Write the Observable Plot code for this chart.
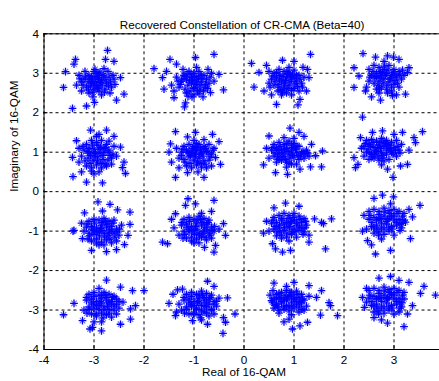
<!DOCTYPE html>
<html><head><meta charset="utf-8">
<script src="https://cdn.jsdelivr.net/npm/d3@7"></script>
<script src="https://cdn.jsdelivr.net/npm/@observablehq/plot@0.6"></script>
<style>html,body{margin:0;padding:0;overflow:hidden;background:#fff}</style>
</head><body><div id="chart"></div><script>
const titleText = "Recovered Constellation of CR-CMA (Beta=40)";
const xLabel = "Real of 16-QAM";
const yLabel = "Imaginary of 16-QAM";
const xTicks = [-4,-3,-2,-1,0,1,2,3,4];
const xTickLabels = [-4,-3,-2,-1,0,1,2,3];
const yTicks = [-4,-3,-2,-1,0,1,2,3,4];

const cA = [[-2.73,3.58],[-3.37,3.35],[-3.4,3.23],[-3.57,3.04],[-2.6,3.3],[-3.61,2.64],[-3.43,2.11],[-3.15,2.17],[-2.99,2.26],[-2.55,2.32],[-2.4,2.47],[-2.47,2.89],[-2.77,3.35],[-2.58,2.72],[-3.25,2.55],
[-3.1,2.95],[-3.0,3.05],[-2.9,2.98],[-2.8,2.9],[-3.2,2.85],[-3.05,2.75],[-2.95,2.7],[-2.85,2.8],[-2.75,2.75],[-3.15,2.65],[-3.0,2.6],[-2.9,2.55],[-2.78,2.6],[-2.7,2.9],[-3.25,2.78],[-3.3,2.95],[-2.92,2.88],[-3.08,2.85],[-2.65,2.65],[-2.85,2.45],[-3.1,2.5],[-2.98,3.1],[-2.72,3.05],[-3.35,2.7],[-2.6,2.85],[-3.02,2.4],[-2.8,3.12],[-3.18,3.05],[-2.9,2.65],[-2.68,2.5],
[-3.03,2.83],[-2.87,2.76],[-2.96,2.92],[-3.12,2.78],[-2.82,2.95],[-2.93,2.62],[-3.07,2.68],[-2.76,2.83],[-3.17,2.91],[-2.88,3.03],[-3.02,2.52],[-2.71,2.68],[-2.98,2.79],[-3.22,2.7],[-2.84,2.7],[-3.11,2.58],[-2.67,2.78],[-2.94,3.0],[-3.05,2.9],[-2.79,2.52],[-3.28,2.86],[-2.62,2.95],[-2.9,2.84],[-3.0,2.7]];
const cB = [[-1.8,3.12],[-1.48,3.35],[-1.35,3.23],[-0.97,3.4],[-0.6,3.48],[-1.63,2.89],[-1.6,2.6],[-1.4,2.38],[-1.19,2.15],[-0.41,2.58],[-0.5,2.97],[-0.67,2.51],[-1.55,3.05],[-1.45,2.7],[-1.17,2.25],
[-1.2,2.95],[-1.1,3.05],[-1.0,3.0],[-0.9,3.05],[-0.8,2.95],[-1.25,2.8],[-1.15,2.85],[-1.05,2.75],[-0.95,2.85],[-0.85,2.78],[-0.75,2.85],[-1.3,2.65],[-1.18,2.6],[-1.08,2.55],[-0.98,2.65],[-0.88,2.6],[-0.78,2.65],[-0.7,2.75],[-1.35,2.9],[-1.0,2.45],[-1.12,2.42],[-0.9,2.48],[-0.65,3.0],[-1.22,3.1],[-0.95,3.15],[-0.72,3.1],[-1.4,2.55],[-0.82,2.4],[-1.05,2.9],[-0.6,2.8],
[-1.03,2.82],[-0.91,2.9],[-1.12,2.7],[-0.96,2.72],[-0.84,2.86],[-1.18,2.92],[-1.06,2.98],[-0.77,2.72],[-1.27,2.72],[-0.93,2.55],[-1.15,2.5],[-0.86,2.95],[-1.01,2.62],[-0.68,2.9],[-1.22,2.85],[-0.99,2.92],[-1.09,2.82],[-0.81,2.55],[-0.73,2.62],[-1.32,2.8],[-0.88,2.7],[-1.04,2.4],[-1.14,2.98],[-0.94,2.78]];
const cC = [[0.15,3.25],[1.33,3.48],[0.3,3.02],[0.2,2.65],[0.4,2.55],[0.65,2.21],[1.08,2.2],[1.12,2.34],[1.25,2.55],[1.3,2.89],[1.27,3.1],[0.77,3.33],[0.45,3.2],[1.0,3.3],[0.55,2.45],
[0.6,3.0],[0.7,3.1],[0.8,3.05],[0.9,3.0],[1.0,3.08],[1.1,2.95],[0.55,2.85],[0.65,2.9],[0.75,2.8],[0.85,2.9],[0.95,2.85],[1.05,2.8],[1.15,2.75],[0.6,2.7],[0.7,2.65],[0.8,2.6],[0.9,2.7],[1.0,2.62],[1.1,2.55],[0.5,2.75],[0.85,2.5],[0.95,2.45],[0.75,2.45],[1.2,2.9],[0.9,3.15],[0.5,3.05],[1.05,2.95],[0.68,2.55],[1.18,3.15],[0.8,2.75],
[0.83,2.82],[0.93,2.93],[0.72,2.95],[0.62,2.8],[1.02,2.73],[0.88,2.62],[0.78,2.92],[0.97,2.98],[0.68,2.72],[1.12,2.85],[0.58,2.93],[0.86,3.05],[1.07,2.67],[0.74,2.58],[0.95,2.57],[0.81,2.68],[0.65,3.02],[1.17,2.65],[0.92,2.78],[0.71,2.85],[1.02,2.88],[0.52,2.65],[0.87,2.97],[0.77,2.52]];
const cD = [[2.38,3.5],[2.63,3.41],[2.87,3.44],[2.99,3.41],[2.2,3.14],[2.3,2.93],[2.2,2.64],[2.43,2.55],[2.73,2.32],[2.97,2.43],[3.23,2.47],[3.3,3.14],[3.27,3.02],[2.37,1.89],[3.1,3.35],[2.55,2.4],
[2.5,3.1],[2.6,3.2],[2.7,3.15],[2.8,3.1],[2.9,3.2],[3.0,3.1],[3.1,3.05],[2.55,2.95],[2.65,3.0],[2.75,2.95],[2.85,3.0],[2.95,2.95],[3.05,2.9],[3.15,2.85],[2.5,2.8],[2.6,2.75],[2.7,2.8],[2.8,2.85],[2.9,2.78],[3.0,2.72],[3.1,2.65],[2.65,2.6],[2.75,2.65],[2.85,2.6],[2.95,2.55],[2.45,2.65],[3.2,2.95],[2.8,3.3],[2.7,2.5],[3.05,2.45],
[2.83,2.95],[2.93,2.88],[2.72,3.05],[2.62,2.88],[3.02,2.82],[2.88,3.08],[2.78,2.75],[2.98,3.03],[2.68,2.7],[3.12,2.95],[2.58,3.05],[2.86,2.7],[3.07,2.75],[2.74,2.88],[2.95,2.65],[2.81,3.18],[2.65,2.92],[3.17,3.08],[2.92,2.85],[2.71,2.6],[3.02,2.98],[2.52,2.9],[2.87,2.5],[2.77,3.02]];
const cE = [[-3.07,1.56],[-2.75,1.56],[-3.35,1.29],[-3.43,0.87],[-3.42,0.38],[-3.15,0.24],[-2.83,0.22],[-2.37,0.46],[-2.4,0.75],[-2.47,1.13],[-2.43,0.61],[-3.3,1.1],[-2.9,1.45],[-2.6,1.4],[-3.25,0.5],
[-3.15,1.2],[-3.05,1.3],[-2.95,1.25],[-2.85,1.3],[-2.75,1.2],[-3.2,1.05],[-3.1,1.1],[-3.0,1.0],[-2.9,1.08],[-2.8,1.0],[-2.7,1.05],[-2.62,0.95],[-3.25,0.9],[-3.12,0.85],[-3.02,0.8],[-2.92,0.88],[-2.82,0.82],[-2.72,0.8],[-3.15,0.65],[-3.05,0.6],[-2.95,0.68],[-2.85,0.6],[-2.75,0.65],[-2.65,0.7],[-3.0,0.45],[-2.9,0.5],[-2.6,1.15],[-3.3,0.75],[-2.95,1.4],[-2.55,0.9],
[-2.97,0.97],[-2.87,1.12],[-3.07,0.92],[-2.82,0.92],[-3.12,1.02],[-2.93,0.78],[-2.77,1.12],[-3.03,1.18],[-2.68,0.92],[-3.18,0.78],[-2.98,0.88],[-2.86,0.72],[-3.08,0.72],[-2.72,1.0],[-2.92,1.18],[-3.22,1.15],[-2.78,0.7],[-3.0,1.08],[-2.65,0.85],[-2.88,0.98],[-3.1,0.98],[-2.8,1.1],[-3.05,0.52],[-2.7,1.28]];
const cF = [[-1.37,1.52],[-1.13,1.39],[-0.97,1.5],[-0.63,1.45],[-0.5,1.27],[-1.5,1.0],[-1.47,1.21],[-1.37,0.36],[-1.13,0.48],[-0.8,0.36],[-0.47,0.69],[-0.57,0.86],[-1.45,0.75],[-0.6,1.1],[-1.3,0.6],
[-1.2,1.15],[-1.1,1.2],[-1.0,1.15],[-0.9,1.2],[-0.8,1.15],[-0.7,1.2],[-1.25,1.0],[-1.15,1.05],[-1.05,0.98],[-0.95,1.05],[-0.85,0.98],[-0.75,1.02],[-0.65,0.95],[-1.3,0.85],[-1.2,0.82],[-1.1,0.88],[-1.0,0.8],[-0.9,0.85],[-0.8,0.78],[-0.7,0.8],[-1.15,0.65],[-1.05,0.6],[-0.95,0.68],[-0.85,0.62],[-0.75,0.6],[-1.35,1.1],[-0.65,0.65],[-1.0,1.3],[-0.8,1.32],[-0.92,0.5],
[-0.97,0.95],[-0.87,1.08],[-1.07,0.92],[-0.82,0.9],[-1.12,1.0],[-0.93,0.75],[-0.77,1.1],[-1.03,1.1],[-0.68,0.88],[-1.18,0.75],[-0.98,0.88],[-0.86,0.72],[-1.08,0.72],[-0.72,1.0],[-0.92,1.12],[-1.22,1.08],[-0.78,0.7],[-1.0,1.05],[-0.62,1.05],[-0.88,0.95],[-1.1,0.98],[-0.8,1.08],[-1.25,0.92],[-0.95,1.22]];
const cG = [[0.92,1.61],[0.5,1.41],[0.8,1.37],[1.1,1.5],[0.39,0.68],[0.63,0.48],[0.87,0.44],[1.12,0.57],[1.33,0.63],[1.55,0.63],[1.57,1.03],[1.43,0.91],[1.35,1.2],[0.45,1.1],[1.2,1.4],
[0.6,1.2],[0.7,1.25],[0.8,1.2],[0.9,1.28],[1.0,1.22],[1.1,1.15],[0.55,1.05],[0.65,1.1],[0.75,1.05],[0.85,1.1],[0.95,1.05],[1.05,1.0],[1.15,0.98],[1.25,1.05],[0.6,0.9],[0.7,0.95],[0.8,0.9],[0.9,0.95],[1.0,0.88],[1.1,0.82],[1.2,0.85],[0.65,0.75],[0.75,0.8],[0.85,0.75],[0.95,0.7],[1.05,0.7],[0.5,0.85],[1.3,0.9],[0.85,0.62],[1.0,1.35],
[0.88,1.02],[0.98,1.12],[0.78,0.98],[0.68,1.05],[1.08,0.92],[0.92,0.85],[0.72,1.15],[1.03,1.08],[0.62,0.98],[1.18,1.02],[0.83,0.82],[0.95,1.18],[1.13,0.9],[0.76,0.88],[0.86,1.22],[1.22,0.95],[0.7,0.82],[0.97,0.92],[0.58,1.12],[1.06,1.15],[0.81,1.08],[0.9,0.72],[1.27,0.98],[0.67,0.88]];
const cH = [[3.57,1.52],[3.4,1.37],[3.43,1.24],[2.57,1.5],[2.77,1.54],[3.17,1.5],[2.2,0.86],[2.23,0.61],[2.28,0.69],[2.87,0.57],[2.98,0.36],[3.3,1.05],[3.27,0.69],[3.13,0.65],[2.33,1.37],[2.35,1.1],[3.0,1.45],
[2.45,1.3],[2.55,1.32],[2.65,1.28],[2.75,1.35],[2.85,1.3],[2.95,1.25],[3.05,1.3],[2.4,1.15],[2.5,1.2],[2.6,1.12],[2.7,1.18],[2.8,1.15],[2.9,1.1],[3.0,1.12],[3.1,1.05],[2.45,1.0],[2.55,0.95],[2.65,1.02],[2.75,0.98],[2.85,0.95],[2.95,1.0],[3.05,0.9],[2.5,0.82],[2.6,0.85],[2.7,0.8],[2.8,0.78],[2.9,0.82],[2.4,0.9],[3.15,1.2],[2.75,0.68],
[2.73,1.1],[2.83,1.22],[2.63,1.05],[2.53,1.15],[2.93,1.05],[2.78,0.92],[2.58,1.25],[2.88,1.2],[2.48,1.08],[3.03,1.05],[2.68,0.9],[2.8,1.28],[2.98,0.95],[2.62,0.95],[2.72,1.25],[3.08,1.15],[2.56,0.88],[2.85,1.05],[2.43,1.22],[2.92,1.18],[2.68,1.12],[2.76,0.85],[3.12,0.98],[2.52,0.98]];
const cI = [[-2.92,-0.26],[-2.68,-0.32],[-2.53,-0.46],[-2.28,-0.52],[-3.19,-0.54],[-3.4,-0.98],[-3.23,-1.19],[-3.05,-1.49],[-2.55,-1.47],[-2.39,-1.34],[-2.32,-1.11],[-2.28,-0.83],[-2.83,-0.49],[-3.42,-1.0],[-2.75,-1.52],
[-3.1,-0.75],[-3.0,-0.7],[-2.9,-0.72],[-2.8,-0.68],[-2.7,-0.75],[-2.6,-0.72],[-3.15,-0.9],[-3.05,-0.88],[-2.95,-0.92],[-2.85,-0.85],[-2.75,-0.9],[-2.65,-0.88],[-2.55,-0.95],[-3.1,-1.05],[-3.0,-1.08],[-2.9,-1.02],[-2.8,-1.05],[-2.7,-1.1],[-2.6,-1.05],[-2.5,-1.1],[-3.05,-1.25],[-2.95,-1.2],[-2.85,-1.28],[-2.75,-1.22],[-2.65,-1.3],[-2.55,-1.25],[-3.2,-1.0],[-2.9,-1.35],[-2.45,-0.85],[-3.25,-0.8],
[-2.84,-0.98],[-2.74,-0.82],[-2.94,-1.02],[-3.04,-0.95],[-2.64,-1.0],[-2.79,-1.15],[-2.99,-0.8],[-2.69,-0.95],[-3.09,-1.12],[-2.54,-1.02],[-2.89,-1.12],[-2.77,-0.75],[-2.58,-1.15],[-2.95,-1.3],[-2.84,-0.78],[-2.49,-0.95],[-3.14,-0.82],[-2.72,-1.05],[-3.0,-0.98],[-2.62,-0.8],[-2.87,-0.93],[-2.68,-1.2],[-3.12,-1.2],[-2.8,-1.35]];
const cJ = [[-1.12,-0.18],[-0.6,-0.22],[-1.17,-0.35],[-0.97,-0.31],[-1.37,-0.56],[-1.63,-1.28],[-1.53,-1.32],[-1.4,-0.92],[-0.6,-1.53],[-0.57,-1.36],[-0.37,-1.11],[-0.41,-0.81],[-0.79,-1.41],[-0.65,-0.5],[-1.45,-0.7],
[-1.2,-0.7],[-1.1,-0.65],[-1.0,-0.7],[-0.9,-0.62],[-0.8,-0.68],[-0.7,-0.72],[-1.25,-0.85],[-1.15,-0.82],[-1.05,-0.88],[-0.95,-0.8],[-0.85,-0.85],[-0.75,-0.82],[-0.65,-0.9],[-1.2,-1.0],[-1.1,-1.02],[-1.0,-0.98],[-0.9,-1.05],[-0.8,-1.0],[-0.7,-1.05],[-0.6,-1.0],[-1.15,-1.18],[-1.05,-1.15],[-0.95,-1.2],[-0.85,-1.15],[-0.75,-1.22],[-0.65,-1.18],[-1.3,-1.1],[-0.5,-0.95],[-1.0,-1.3],[-0.85,-0.55],
[-0.94,-0.95],[-0.84,-0.78],[-1.04,-0.98],[-1.14,-0.9],[-0.74,-0.95],[-0.89,-1.1],[-1.09,-0.75],[-0.79,-0.9],[-1.19,-1.08],[-0.64,-0.98],[-0.99,-1.08],[-0.87,-0.7],[-0.68,-1.1],[-1.05,-1.25],[-0.94,-0.72],[-0.59,-0.88],[-1.24,-0.78],[-0.82,-1.05],[-1.1,-0.95],[-0.72,-0.78],[-0.97,-0.88],[-0.78,-1.15],[-1.22,-1.18],[-0.9,-1.3]];
const cK = [[0.83,-0.29],[0.6,-0.41],[1.1,-0.37],[1.41,-0.69],[1.59,-0.81],[1.75,-0.69],[0.39,-1.05],[0.57,-1.32],[0.77,-1.53],[0.93,-1.49],[1.63,-1.45],[1.3,-1.28],[0.63,-1.45],[1.55,-0.78],[0.45,-0.75],
[0.6,-0.65],[0.7,-0.6],[0.8,-0.55],[0.9,-0.6],[1.0,-0.55],[1.1,-0.62],[1.2,-0.68],[0.55,-0.8],[0.65,-0.78],[0.75,-0.72],[0.85,-0.78],[0.95,-0.75],[1.05,-0.8],[1.15,-0.78],[1.25,-0.85],[0.6,-0.95],[0.7,-0.92],[0.8,-0.98],[0.9,-0.9],[1.0,-0.95],[1.1,-0.98],[1.2,-1.02],[0.65,-1.12],[0.75,-1.1],[0.85,-1.15],[0.95,-1.08],[1.05,-1.15],[0.5,-1.0],[1.3,-1.1],[0.9,-1.25],
[0.91,-0.88],[1.01,-0.72],[0.81,-0.92],[0.71,-0.85],[1.11,-0.9],[0.96,-1.02],[0.76,-0.68],[1.06,-0.85],[0.66,-1.02],[1.16,-0.92],[0.86,-1.05],[0.98,-0.65],[1.18,-1.08],[0.72,-1.02],[0.88,-0.68],[1.23,-0.75],[0.62,-0.88],[1.02,-1.02],[0.8,-0.82],[1.12,-0.7],[0.93,-0.8],[0.75,-1.18],[1.22,-0.92],[0.58,-0.72]];
const cL = [[2.6,-0.17],[2.77,-0.09],[2.99,-0.13],[3.52,-0.35],[2.93,-0.31],[3.37,-0.64],[3.33,-1.19],[2.37,-1.0],[2.47,-1.24],[2.63,-1.58],[2.93,-1.49],[3.23,-0.77],[2.4,-0.6],[3.3,-0.45],[2.55,-1.35],
[2.5,-0.5],[2.6,-0.45],[2.7,-0.5],[2.8,-0.42],[2.9,-0.48],[3.0,-0.45],[3.1,-0.5],[3.2,-0.55],[2.5,-0.7],[2.6,-0.65],[2.7,-0.7],[2.8,-0.62],[2.9,-0.68],[3.0,-0.62],[3.1,-0.7],[3.2,-0.72],[2.55,-0.88],[2.65,-0.85],[2.75,-0.9],[2.85,-0.82],[2.95,-0.88],[3.05,-0.85],[3.15,-0.92],[2.6,-1.05],[2.7,-1.02],[2.8,-1.08],[2.9,-1.0],[3.0,-1.1],[2.45,-0.95],[2.75,-1.2],
[2.85,-0.75],[2.95,-0.62],[2.75,-0.8],[2.65,-0.72],[3.05,-0.78],[2.9,-0.92],[2.7,-0.58],[3.0,-0.72],[2.6,-0.92],[3.12,-0.82],[2.8,-0.95],[2.92,-0.55],[3.12,-0.98],[2.66,-0.95],[2.82,-0.52],[3.17,-0.62],[2.56,-0.78],[2.96,-0.95],[2.74,-0.68],[3.06,-0.55],[2.87,-0.7],[2.69,-1.1],[3.16,-0.8],[2.52,-0.6]];
const cM = [[-2.75,-2.24],[-2.47,-2.42],[-2.23,-2.51],[-2.0,-2.51],[-3.4,-2.83],[-3.61,-3.12],[-3.23,-3.27],[-3.03,-3.44],[-2.85,-3.53],[-2.47,-3.36],[-2.27,-3.23],[-2.17,-2.89],[-2.27,-2.97],[-3.08,-3.48],[-2.9,-2.45],
[-3.1,-2.6],[-3.0,-2.55],[-2.9,-2.62],[-2.8,-2.55],[-2.7,-2.6],[-2.6,-2.65],[-3.15,-2.75],[-3.05,-2.72],[-2.95,-2.78],[-2.85,-2.7],[-2.75,-2.75],[-2.65,-2.78],[-2.55,-2.72],[-3.1,-2.92],[-3.0,-2.95],[-2.9,-2.88],[-2.8,-2.92],[-2.7,-2.98],[-2.6,-2.9],[-2.5,-2.95],[-3.05,-3.1],[-2.95,-3.15],[-2.85,-3.08],[-2.75,-3.12],[-2.65,-3.18],[-2.55,-3.1],[-3.2,-3.0],[-2.85,-3.3],[-2.42,-2.8],[-3.0,-3.3],
[-2.85,-2.82],[-2.75,-2.68],[-2.95,-2.88],[-3.05,-2.8],[-2.65,-2.85],[-2.8,-3.0],[-3.0,-2.65],[-2.7,-2.8],[-3.1,-2.98],[-2.55,-2.85],[-2.9,-2.98],[-2.78,-2.62],[-2.6,-3.0],[-2.96,-3.1],[-2.85,-2.62],[-2.5,-2.78],[-3.15,-2.68],[-2.73,-2.9],[-3.01,-2.85],[-2.63,-2.68],[-2.88,-2.78],[-2.7,-3.08],[-3.14,-3.08],[-2.82,-3.2]];
const cN = [[-1.33,-2.49],[-1.23,-2.47],[-1.5,-2.83],[-1.37,-3.14],[-0.73,-2.27],[-0.33,-2.69],[-0.41,-3.19],[-0.37,-3.31],[-0.18,-3.1],[-0.42,-3.59],[-0.73,-3.36],[-1.03,-3.27],[-1.42,-2.6],[-1.35,-3.05],[-0.6,-2.4],
[-1.15,-2.6],[-1.05,-2.55],[-0.95,-2.6],[-0.85,-2.52],[-0.75,-2.58],[-0.65,-2.62],[-1.2,-2.75],[-1.1,-2.72],[-1.0,-2.78],[-0.9,-2.7],[-0.8,-2.75],[-0.7,-2.72],[-0.6,-2.78],[-1.15,-2.92],[-1.05,-2.9],[-0.95,-2.95],[-0.85,-2.88],[-0.75,-2.92],[-0.65,-2.98],[-0.55,-2.9],[-1.1,-3.1],[-1.0,-3.08],[-0.9,-3.12],[-0.8,-3.05],[-0.7,-3.15],[-0.6,-3.1],[-1.3,-2.85],[-0.5,-2.7],[-0.85,-3.25],[-1.25,-3.0],
[-0.9,-2.82],[-0.8,-2.68],[-1.0,-2.88],[-1.1,-2.8],[-0.7,-2.85],[-0.85,-3.0],[-1.05,-2.65],[-0.75,-2.8],[-1.15,-2.98],[-0.6,-2.85],[-0.95,-2.98],[-0.83,-2.62],[-0.65,-3.0],[-1.01,-3.1],[-0.9,-2.62],[-0.55,-2.78],[-1.2,-2.68],[-0.78,-2.9],[-1.06,-2.85],[-0.68,-2.68],[-0.93,-2.78],[-0.75,-3.08],[-1.19,-3.08],[-0.87,-3.2]];
const cO = [[0.6,-2.32],[0.58,-2.51],[0.55,-2.76],[1.0,-2.3],[1.3,-2.38],[1.55,-2.51],[1.45,-2.68],[1.7,-2.81],[1.73,-2.89],[1.53,-3.13],[1.87,-3.14],[1.27,-3.31],[1.12,-3.4],[0.97,-3.48],[0.9,-3.23],[0.8,-3.3],
[0.65,-2.6],[0.75,-2.55],[0.85,-2.5],[0.95,-2.55],[1.05,-2.52],[1.15,-2.6],[0.6,-2.7],[0.7,-2.68],[0.8,-2.72],[0.9,-2.65],[1.0,-2.7],[1.1,-2.68],[1.2,-2.75],[0.65,-2.85],[0.75,-2.82],[0.85,-2.88],[0.95,-2.8],[1.05,-2.85],[1.15,-2.82],[1.25,-2.9],[0.7,-3.0],[0.8,-2.98],[0.9,-3.02],[1.0,-2.95],[1.1,-3.05],[0.6,-2.95],[1.3,-2.65],[0.95,-3.12],[0.85,-2.4],[1.2,-3.0],
[0.85,-2.75],[0.95,-2.62],[0.75,-2.78],[0.65,-2.72],[1.05,-2.78],[0.9,-2.92],[0.7,-2.58],[1.0,-2.72],[0.62,-2.88],[1.12,-2.8],[0.8,-2.92],[0.92,-2.55],[1.1,-2.92],[0.68,-2.92],[0.82,-2.62],[1.17,-2.72],[0.57,-2.8],[0.96,-2.9],[0.74,-2.68],[1.06,-2.6],[0.87,-2.7],[0.7,-3.08],[1.16,-2.98],[0.52,-2.62]];
const cP = [[2.7,-2.19],[2.93,-2.15],[3.3,-2.3],[3.6,-2.4],[3.83,-2.62],[3.53,-2.58],[2.37,-2.68],[2.41,-2.93],[2.6,-3.19],[2.87,-3.33],[3.2,-3.42],[3.27,-3.1],[3.37,-2.89],[2.45,-2.45],[3.1,-2.25],[2.75,-3.25],
[2.5,-2.5],[2.6,-2.45],[2.7,-2.5],[2.8,-2.42],[2.9,-2.48],[3.0,-2.45],[3.1,-2.5],[3.2,-2.55],[2.5,-2.7],[2.6,-2.65],[2.7,-2.7],[2.8,-2.62],[2.9,-2.68],[3.0,-2.62],[3.1,-2.7],[3.2,-2.72],[2.55,-2.88],[2.65,-2.85],[2.75,-2.9],[2.85,-2.82],[2.95,-2.88],[3.05,-2.85],[3.15,-2.92],[2.6,-3.05],[2.7,-3.02],[2.8,-3.08],[2.9,-3.0],[3.0,-3.1],[2.45,-2.8],[3.1,-3.05],
[2.85,-2.72],[2.95,-2.6],[2.75,-2.78],[2.65,-2.72],[3.05,-2.78],[2.9,-2.92],[2.7,-2.58],[3.0,-2.72],[2.6,-2.9],[3.12,-2.8],[2.8,-2.95],[2.92,-2.55],[3.12,-2.95],[2.66,-2.95],[2.82,-2.52],[3.17,-2.62],[2.56,-2.78],[2.96,-2.95],[2.74,-2.68],[3.06,-2.55],[2.87,-2.7],[2.69,-3.1],[3.16,-2.82],[2.52,-2.62]];

const points = [cA,cB,cC,cD,cE,cF,cG,cH,cI,cJ,cK,cL,cM,cN,cO,cP].flat();
const blue = "#0000ff";
const font = "'Liberation Sans', Arial, Helvetica, sans-serif";

const chart = Plot.plot({
  width: 447, height: 381,
  marginLeft: 43.5, marginRight: 3.5, marginTop: 33.3, marginBottom: 32,
  style: {fontFamily: font, fontSize: "11.7px", color: "#000", background: "#fff", overflow: "visible", maxWidth: "none"},
  x: {domain: [-4, 4]},
  y: {domain: [-4, 4]},
  marks: [
    Plot.gridX(xTicks, {stroke: "#000", strokeOpacity: 1, strokeDasharray: "3,3"}),
    Plot.gridY(yTicks, {stroke: "#000", strokeOpacity: 1, strokeDasharray: "3,3"}),
    Plot.ruleX(xTicks, {y1: -4, y2: -3.9, stroke: "#000"}),
    Plot.ruleX(xTicks, {y1: 4, y2: 3.9, stroke: "#000"}),
    Plot.ruleY(yTicks, {x1: -4, x2: -3.92, stroke: "#000"}),
    Plot.dot(points, {x: d => d[0], y: d => d[1], symbol: "times", r: 2.6, stroke: blue, strokeOpacity: 0.6, strokeWidth: 1.1}),
    Plot.dot(points, {x: d => d[0], y: d => d[1], symbol: "plus", r: 2.6, stroke: blue, strokeWidth: 1.3}),
    Plot.frame({stroke: "#000"}),
    Plot.axisX(xTickLabels, {tickSize: 0, tickPadding: 6, label: null, tickFormat: d => String(d), fontSize: 11.7}),
    Plot.axisY(yTicks, {tickSize: 0, tickPadding: 5, label: null, tickFormat: d => String(d), fontSize: 11.7}),
    Plot.text([titleText], {text: d => d, frameAnchor: "top", dx: -2, dy: -13, fontSize: 11.7}),
    Plot.text([xLabel], {text: d => d, frameAnchor: "bottom", dy: 26, fontSize: 11.7}),
    Plot.text([yLabel], {text: d => d, frameAnchor: "left", dx: -30, rotate: -90, fontSize: 11.7})
  ]
});
chart.style.maxWidth = "none";
chart.style.width = "447px";
chart.style.height = "381px";
document.getElementById("chart").appendChild(chart);
</script></body></html>
